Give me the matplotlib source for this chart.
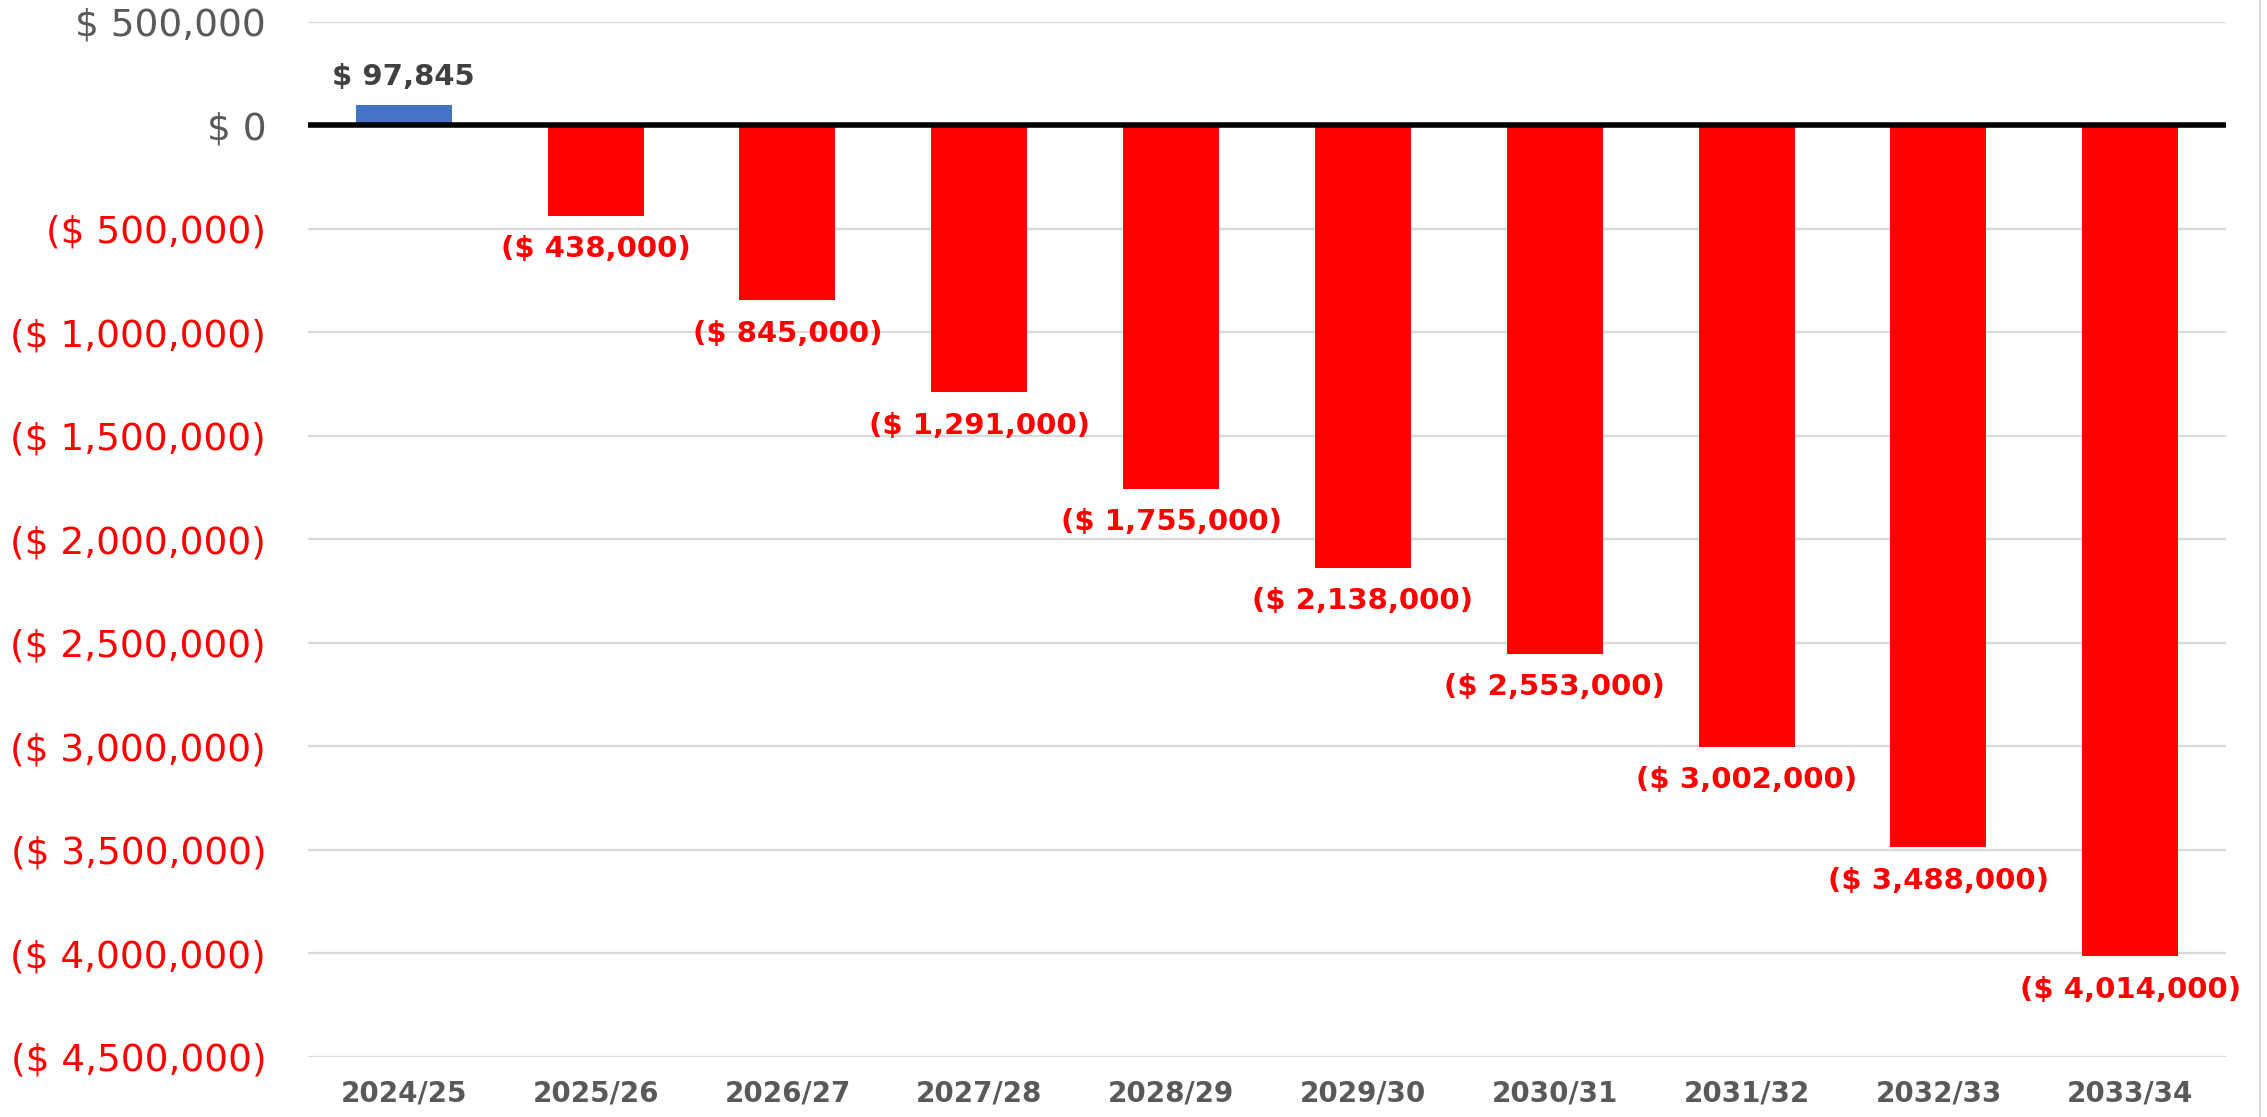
import matplotlib
matplotlib.use("Agg")
import matplotlib.pyplot as plt
from matplotlib.ticker import FuncFormatter
from matplotlib.lines import Line2D

years = ["2024/25", "2025/26", "2026/27", "2027/28", "2028/29",
         "2029/30", "2030/31", "2031/32", "2032/33", "2033/34"]
values = [97845, -438000, -845000, -1291000, -1755000,
          -2138000, -2553000, -3002000, -3488000, -4014000]

BLUE = "#4472C4"
RED = "#FF0000"
GREY = "#595959"

plt.rcParams["font.family"] = ["DejaVu Sans"]


def money(v):
    if v < 0:
        return "($ {:,.0f})".format(-v)
    return "$ {:,.0f}".format(v)


fig = plt.figure(figsize=(22.67, 11.17), dpi=100)
ax = fig.add_axes([0.1358, 0.0539, 0.982 - 0.1358, 0.9806 - 0.0539])

x = range(len(years))
colors = [BLUE if v >= 0 else RED for v in values]
ax.bar(x, values, width=0.5, color=colors, zorder=2)

ax.set_xlim(-0.5, len(years) - 0.5)
ax.set_ylim(-4500000, 500000)
ax.set_yticks(range(-4500000, 500001, 500000))
ax.yaxis.set_major_formatter(FuncFormatter(lambda v, p: money(v)))
ax.grid(axis="y", color="#D9D9D9", linewidth=1.6, zorder=0)
ax.axhline(0, color="black", linewidth=4, zorder=3)

for s in ax.spines.values():
    s.set_visible(False)
ax.tick_params(axis="y", length=0, pad=30, labelsize=27)
ax.tick_params(axis="x", length=0, pad=16)
ax.set_xticks(list(x))
ax.set_xticklabels(years, fontsize=20, fontweight="bold", color=GREY)

for lbl, v in zip(ax.get_yticklabels(), ax.get_yticks()):
    lbl.set_color(RED if v < 0 else GREY)

for i, v in enumerate(values):
    if v >= 0:
        ax.annotate(money(v), (i, v), xytext=(0, 10), textcoords="offset points",
                    ha="center", va="bottom", fontsize=21, fontweight="bold",
                    color="#404040")
    else:
        ax.annotate(money(v), (i, v), xytext=(0, -14), textcoords="offset points",
                    ha="center", va="top", fontsize=21, fontweight="bold",
                    color=RED)

fig.add_artist(Line2D([0.997, 0.997], [0, 1], color="#D9D9D9", linewidth=1.5,
                      transform=fig.transFigure))

fig.savefig("out.png", dpi=100)
